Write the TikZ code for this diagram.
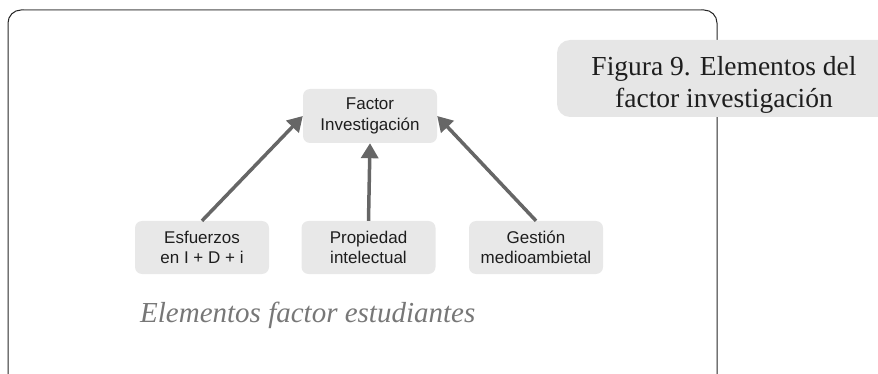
\documentclass[tikz,border=0pt]{standalone}
\usepackage{fontspec}
\setmainfont{Liberation Serif}
\newfontfamily\boxfont{Liberation Sans}
\usetikzlibrary{arrows.meta}
\definecolor{boxfill}{HTML}{E8E8E8}
\definecolor{capfill}{HTML}{E6E6E6}
\definecolor{arrowgray}{HTML}{666666}
\definecolor{textdark}{HTML}{1E1E1E}
\definecolor{notegray}{HTML}{777777}
\tikzset{
  itembox/.style={rectangle, rounded corners=7pt, fill=boxfill, draw=none,
    minimum width=134pt, minimum height=53pt, align=center, text=textdark,
    font=\boxfont\fontsize{17}{20.5}\selectfont},
  feed/.style={draw=arrowgray, line width=3.5pt,
    -{Triangle[length=15pt, width=17pt]}},
  frameline/.style={draw=black!85, line width=1pt},
}
\begin{document}
\begin{tikzpicture}[x=1pt, y=-1pt]
  \useasboundingbox (0,0) rectangle (878,374);
  \clip (0,0) rectangle (878,374);

  % outer frame, open at the bottom edge
  \draw[frameline, rounded corners=13pt] (8,390) -- (8,10) -- (717,10) -- (717,390);
  \draw[draw=black!45, line width=1pt] (24,10) -- (701,10);

  % caption panel on the right
  \fill[capfill, rounded corners=13pt] (557,40) rectangle (900,117);
  \node[align=center, text=textdark, font=\fontsize{27.5}{32}\selectfont] (cap) at (724,85)
    {Figura 9. Elementos del\\factor investigación};

  % factor and its elements
  \node[itembox, minimum height=54pt] (f) at (370,116) {Factor\\Investigación};
  \node[itembox] (e) at (202,247.5) {Esfuerzos\\en I + D + i};
  \node[itembox] (p) at (368.5,247.5) {Propiedad\\intelectual};
  \node[itembox] (g) at (536,247.5) {Gestión\\medioambietal};

  \draw[feed] (e.north) -- (f.west);
  \draw[feed] (p.north) -- (f.south);
  \draw[feed] (g.north) -- (f.east);

  % footnote line
  \node[anchor=base west, inner sep=0pt, text=notegray,
    font=\itshape\fontsize{29}{34}\selectfont] (note) at (140,322)
    {Elementos factor estudiantes};
\end{tikzpicture}
\end{document}
